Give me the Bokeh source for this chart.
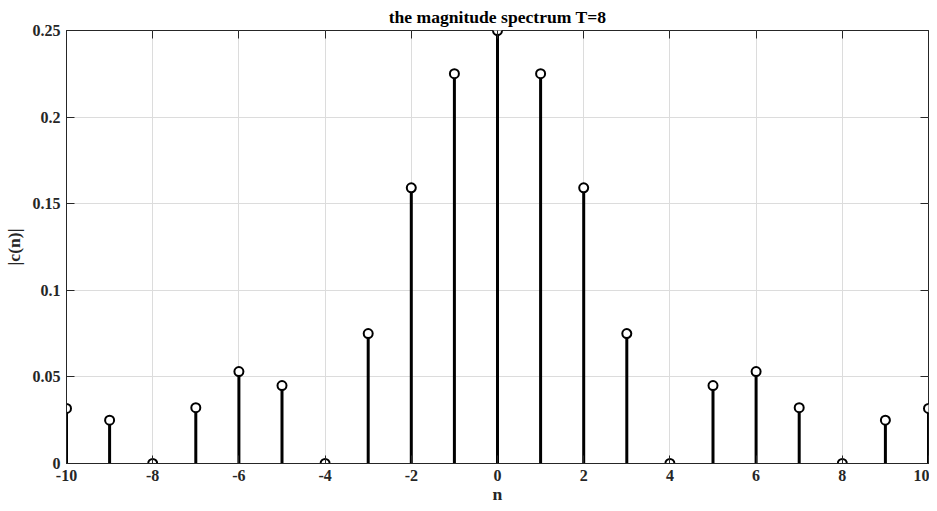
from bokeh.plotting import figure
from bokeh.models import FixedTicker, LinearAxis, Range1d
from bokeh.embed import file_html
from bokeh.resources import INLINE

n = [-10, -9, -8, -7, -6, -5, -4, -3, -2, -1, 0, 1, 2, 3, 4, 5, 6, 7, 8, 9, 10]
c = [0.0318, 0.0250, 0.0, 0.0322, 0.0531, 0.0450, 0.0, 0.0750, 0.1592, 0.2251, 0.25,
     0.2251, 0.1592, 0.0750, 0.0, 0.0450, 0.0531, 0.0322, 0.0, 0.0250, 0.0318]
x_ticks = [-10, -8, -6, -4, -2, 0, 2, 4, 6, 8, 10]
x_tick_labels = ["-10", "-8", "-6", "-4", "-2", "0", "2", "4", "6", "8", "10"]
y_ticks = [0, 0.05, 0.1, 0.15, 0.2, 0.25]
y_tick_labels = ["0", "0.05", "0.1", "0.15", "0.2", "0.25"]

FONT = "Liberation Serif"
TXT = "#262626"

p = figure(width=929, height=506, output_backend="svg", toolbar_location=None,
           x_range=Range1d(-10, 10), y_range=Range1d(0, 0.25),
           min_border_left=62, min_border_right=1, min_border_top=30, min_border_bottom=30,
           title="the magnitude spectrum T=8")
p.title.align = "center"
p.title.text_font = FONT
p.title.text_font_size = "17.6px"
p.title.text_font_style = "bold"
p.title.text_color = "black"
p.title.offset = 0
p.title.standoff = 8

p.outline_line_color = TXT
p.outline_line_width = 1
p.background_fill_color = "white"
p.border_fill_color = "white"

p.xgrid.ticker = FixedTicker(ticks=x_ticks)
p.ygrid.ticker = FixedTicker(ticks=y_ticks)
p.xgrid.grid_line_color = "#dcdcdc"
p.ygrid.grid_line_color = "#dcdcdc"

xa = p.xaxis[0]
ya = p.yaxis[0]
xa.ticker = FixedTicker(ticks=x_ticks)
ya.ticker = FixedTicker(ticks=y_ticks)
xa.major_label_overrides = {v: s for v, s in zip(x_ticks, x_tick_labels)}
ya.major_label_overrides = {v: s for v, s in zip(y_ticks, y_tick_labels)}
xa.axis_label = "n"
ya.axis_label = "|c(n)|"
for ax in (xa, ya):
    ax.major_tick_in = 8
    ax.major_tick_out = 0
    ax.minor_tick_line_color = None
    ax.axis_line_color = TXT
    ax.major_tick_line_color = TXT
    ax.major_label_text_font = FONT
    ax.major_label_text_font_size = "16px"
    ax.major_label_text_font_style = "bold"
    ax.major_label_text_color = TXT
    ax.axis_label_text_font = FONT
    ax.axis_label_text_font_size = "17.6px"
    ax.axis_label_text_font_style = "bold"
    ax.axis_label_text_color = TXT
xa.major_label_standoff = 6
xa.axis_label_standoff = 0
ya.major_label_standoff = 6
ya.axis_label_standoff = 6

top = LinearAxis(ticker=FixedTicker(ticks=x_ticks),
                 major_label_overrides={v: "" for v in x_ticks},
                 major_tick_in=8, major_tick_out=0, minor_tick_line_color=None,
                 axis_line_color=None, major_tick_line_color=TXT, major_label_standoff=0)
right = LinearAxis(ticker=FixedTicker(ticks=y_ticks),
                   major_label_overrides={v: "" for v in y_ticks},
                   major_tick_in=8, major_tick_out=0, minor_tick_line_color=None,
                   axis_line_color=None, major_tick_line_color=TXT, major_label_standoff=0)
p.add_layout(top, "above")
p.add_layout(right, "right")

p.segment(x0=n, y0=[0] * len(n), x1=n, y1=c, line_color="black", line_width=3)
p.scatter(n, c, marker="circle", size=9, line_color="black", line_width=2, fill_color="white")

open("out.html", "w").write(file_html(p, INLINE))
